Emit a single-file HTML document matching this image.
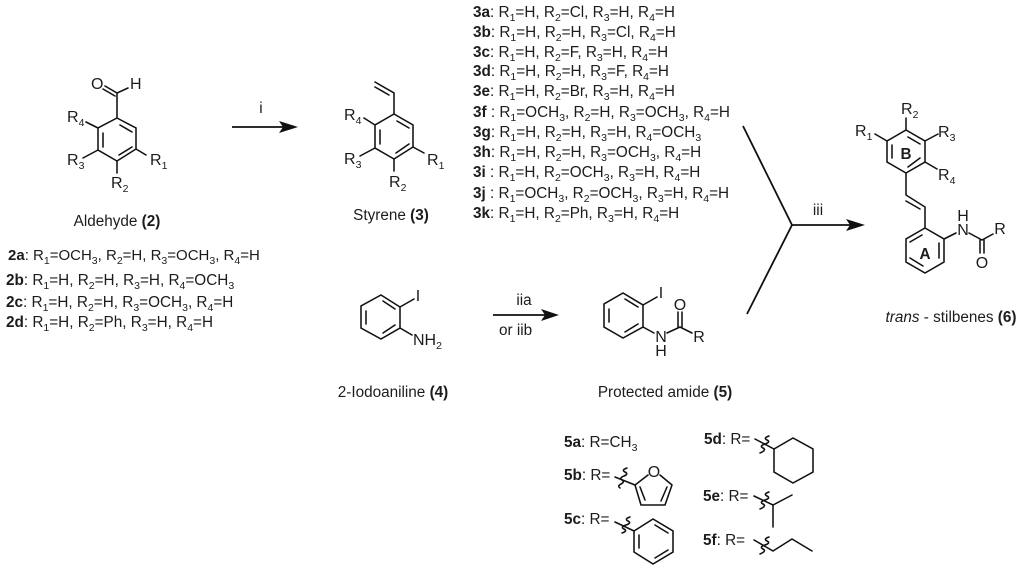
<!DOCTYPE html>
<html><head><meta charset="utf-8"><style>
html,body{margin:0;padding:0;background:#fff}
svg{display:block;filter:blur(0.35px)}
text{font-family:"Liberation Sans",Arial,sans-serif;font-size:15.3px;fill:#1c1c1c}
.m{font-size:16px}
.s{font-size:10.5px;baseline-shift:-3.5px}
.b{font-weight:bold}
.l{stroke:#111;stroke-width:1.55;fill:none;stroke-linecap:round}
.t{stroke:#111;stroke-width:1.8;fill:none}
</style></head><body>
<svg width="1024" height="572" viewBox="0 0 1024 572" xmlns="http://www.w3.org/2000/svg">
<rect width="1024" height="572" fill="#fff"/>

<!-- Aldehyde -->
<path class="l" d="M117,118L136,128V149L117,161L98,150V128ZM103,133V147M120,125L132,132M119,155L132,147M117,118V93L128,88M117,93L105,86M115,96L103,89M86,122L98,128M83,158L98,150M136,149L146,155M117,161V173"/>
<text class="m" x="91" y="89">O</text><text class="m" x="130" y="89">H</text>
<text class="m" x="67" y="122">R<tspan class="s">4</tspan></text>
<text class="m" x="67" y="165">R<tspan class="s">3</tspan></text>
<text class="m" x="150" y="165">R<tspan class="s">1</tspan></text>
<text class="m" x="111" y="188">R<tspan class="s">2</tspan></text>
<text x="117" y="226" text-anchor="middle">Aldehyde <tspan class="b">(2)</tspan></text>

<!-- Styrene -->
<path class="l" d="M394,114L413,125V147L394,159L375,148V125ZM380,130V144M397,121L409,128M396,153L409,144M394,114V93L375,82M389,95L375,87M364,118L375,125M360,156L375,148M413,147L424,153M394,159V171"/>
<text class="m" x="344" y="120">R<tspan class="s">4</tspan></text>
<text class="m" x="344" y="164">R<tspan class="s">3</tspan></text>
<text class="m" x="427" y="165">R<tspan class="s">1</tspan></text>
<text class="m" x="389" y="187">R<tspan class="s">2</tspan></text>
<text x="391" y="220" text-anchor="middle">Styrene <tspan class="b">(3)</tspan></text>

<!-- Arrow i -->
<path class="t" d="M232,127H285"/>
<path fill="#111" d="M298,127L279,121L283,127L279,133Z"/>
<text x="261" y="113" text-anchor="middle">i</text>

<!-- 3 list -->
<text x="473" y="17"><tspan class="b">3a</tspan>: R<tspan class="s">1</tspan>=H, R<tspan class="s">2</tspan>=Cl, R<tspan class="s">3</tspan>=H, R<tspan class="s">4</tspan>=H</text>
<text x="473" y="37"><tspan class="b">3b</tspan>: R<tspan class="s">1</tspan>=H, R<tspan class="s">2</tspan>=H, R<tspan class="s">3</tspan>=Cl, R<tspan class="s">4</tspan>=H</text>
<text x="473" y="57"><tspan class="b">3c</tspan>: R<tspan class="s">1</tspan>=H, R<tspan class="s">2</tspan>=F, R<tspan class="s">3</tspan>=H, R<tspan class="s">4</tspan>=H</text>
<text x="473" y="76"><tspan class="b">3d</tspan>: R<tspan class="s">1</tspan>=H, R<tspan class="s">2</tspan>=H, R<tspan class="s">3</tspan>=F, R<tspan class="s">4</tspan>=H</text>
<text x="473" y="96"><tspan class="b">3e</tspan>: R<tspan class="s">1</tspan>=H, R<tspan class="s">2</tspan>=Br, R<tspan class="s">3</tspan>=H, R<tspan class="s">4</tspan>=H</text>
<text x="473" y="117"><tspan class="b">3f</tspan> : R<tspan class="s">1</tspan>=OCH<tspan class="s">3</tspan>, R<tspan class="s">2</tspan>=H, R<tspan class="s">3</tspan>=OCH<tspan class="s">3</tspan>, R<tspan class="s">4</tspan>=H</text>
<text x="473" y="137"><tspan class="b">3g</tspan>: R<tspan class="s">1</tspan>=H, R<tspan class="s">2</tspan>=H, R<tspan class="s">3</tspan>=H, R<tspan class="s">4</tspan>=OCH<tspan class="s">3</tspan></text>
<text x="473" y="157"><tspan class="b">3h</tspan>: R<tspan class="s">1</tspan>=H, R<tspan class="s">2</tspan>=H, R<tspan class="s">3</tspan>=OCH<tspan class="s">3</tspan>, R<tspan class="s">4</tspan>=H</text>
<text x="473" y="177"><tspan class="b">3i</tspan> : R<tspan class="s">1</tspan>=H, R<tspan class="s">2</tspan>=OCH<tspan class="s">3</tspan>, R<tspan class="s">3</tspan>=H, R<tspan class="s">4</tspan>=H</text>
<text x="473" y="198"><tspan class="b">3j</tspan> : R<tspan class="s">1</tspan>=OCH<tspan class="s">3</tspan>, R<tspan class="s">2</tspan>=OCH<tspan class="s">3</tspan>, R<tspan class="s">3</tspan>=H, R<tspan class="s">4</tspan>=H</text>
<text x="473" y="218"><tspan class="b">3k</tspan>: R<tspan class="s">1</tspan>=H, R<tspan class="s">2</tspan>=Ph, R<tspan class="s">3</tspan>=H, R<tspan class="s">4</tspan>=H</text>

<!-- 2 list -->
<text x="8" y="260" style="font-size:15px"><tspan class="b">2a</tspan>: R<tspan class="s">1</tspan>=OCH<tspan class="s">3</tspan>, R<tspan class="s">2</tspan>=H, R<tspan class="s">3</tspan>=OCH<tspan class="s">3</tspan>, R<tspan class="s">4</tspan>=H</text>
<text x="6" y="285"><tspan class="b">2b</tspan>: R<tspan class="s">1</tspan>=H, R<tspan class="s">2</tspan>=H, R<tspan class="s">3</tspan>=H, R<tspan class="s">4</tspan>=OCH<tspan class="s">3</tspan></text>
<text x="6" y="307"><tspan class="b">2c</tspan>: R<tspan class="s">1</tspan>=H, R<tspan class="s">2</tspan>=H, R<tspan class="s">3</tspan>=OCH<tspan class="s">3</tspan>, R<tspan class="s">4</tspan>=H</text>
<text x="6" y="327"><tspan class="b">2d</tspan>: R<tspan class="s">1</tspan>=H, R<tspan class="s">2</tspan>=Ph, R<tspan class="s">3</tspan>=H, R<tspan class="s">4</tspan>=H</text>

<!-- 2-Iodoaniline -->
<path class="l" d="M381,295L400,307V328L381,339L361,328V306ZM366,311V324M383,301L395,309M383,333L395,325M400,307L414,299M400,328L412,335"/>
<text class="m" x="418" y="301" text-anchor="middle">I</text>
<text class="m" x="413" y="345">NH<tspan class="s">2</tspan></text>
<text x="393" y="397" text-anchor="middle">2-Iodoaniline <tspan class="b">(4)</tspan></text>

<!-- Arrow ii -->
<path class="t" d="M493,315H546"/>
<path fill="#111" d="M559,315L541,309L545,315L541,321Z"/>
<text x="524" y="305" text-anchor="middle">iia</text>
<text x="499" y="335">or iib</text>

<!-- Amide 5 -->
<path class="l" d="M623,293L643,305V327L623,338L604,327V304ZM609,309V322M625,299L638,307M625,332L638,324M643,305L657,297M643,327L654,333M667,333L680,327L692,333M678,327V312M682,327V312"/>
<text class="m" x="661" y="298" text-anchor="middle">I</text>
<text class="m" x="680" y="310" text-anchor="middle">O</text>
<text class="m" x="661" y="342" text-anchor="middle">N</text>
<text class="m" x="661" y="356" text-anchor="middle">H</text>
<text class="m" x="699" y="342" text-anchor="middle">R</text>
<text x="665" y="397" text-anchor="middle">Protected amide <tspan class="b">(5)</tspan></text>

<!-- Arrow iii -->
<path class="t" d="M743,126L792,225L747,314M792,225H853"/>
<path fill="#111" d="M865,225L846,219L850,225L846,231Z"/>
<text x="818" y="215" text-anchor="middle">iii</text>

<!-- Stilbene -->
<path class="l" d="M906,130L925,141V162L906,173L887,162V141ZM892,145V158M908,137L920,144M908,167L920,158M906,173V195L925,207V228M906,201L920,209M925,228L944,239V262L925,273L906,262V239ZM939,243V258M910,242L922,235M910,258L923,266M944,239L956,233M969,233L982,240L993,234M980,240V253M984,240V253M906,130V118M887,141L875,134M925,141L938,134M925,162L937,169"/>
<text class="m" x="901" y="114">R<tspan class="s">2</tspan></text>
<text class="m" x="855" y="136">R<tspan class="s">1</tspan></text>
<text class="m" x="938" y="137">R<tspan class="s">3</tspan></text>
<text class="m" x="938" y="180">R<tspan class="s">4</tspan></text>
<text class="b" x="906" y="159" text-anchor="middle">B</text>
<text class="b" x="925" y="259" text-anchor="middle">A</text>
<text class="m" x="963" y="221" text-anchor="middle">H</text>
<text class="m" x="963" y="235" text-anchor="middle">N</text>
<text class="m" x="1000" y="234" text-anchor="middle">R</text>
<text class="m" x="982" y="268" text-anchor="middle">O</text>
<text x="951" y="322" text-anchor="middle"><tspan font-style="italic">trans</tspan> - stilbenes <tspan class="b">(6)</tspan></text>

<!-- 5 list -->
<text x="564" y="447"><tspan class="b">5a</tspan>: R=CH<tspan class="s">3</tspan></text>
<text x="564" y="480"><tspan class="b">5b</tspan>: R=</text>
<text x="564" y="524"><tspan class="b">5c</tspan>: R=</text>
<text x="704" y="444"><tspan class="b">5d</tspan>: R=</text>
<text x="703" y="501"><tspan class="b">5e</tspan>: R=</text>
<text x="703" y="545"><tspan class="b">5f</tspan>: R=</text>

<!-- Furan -->
<path class="l" d="M615,477L635,485M648,475L635,485L641,505H665L672,485L660,475M640,487L645,500M667,487L661,501"/>
<text class="m" x="654" y="477" text-anchor="middle">O</text>
<path class="l" d="M627,468q-6,2 -2,4t-1,4t-2,4t-1,4t-1,4"/>
<!-- Benzene -->
<path class="l" d="M615,522L634,531L653,519L673,531V552L653,564L634,552V531M639,535V548M655,525L668,533M655,558L668,550"/>
<path class="l" d="M630,517q-6,2 -2,4t-2,4t-2,4t-2,4"/>
<!-- Cyclohexane -->
<path class="l" d="M755,439L774,449L793,438L813,449V472L793,483L774,472V449"/>
<path class="l" d="M769,436q-6,2 -2,4t-2,4t-2,4t-3,5"/>
<!-- iPr -->
<path class="l" d="M754,496L773,505L792,495M773,505V527"/>
<path class="l" d="M769,492q-6,2 -2,4t-2,4t-2,4t-3,5"/>
<!-- Propyl -->
<path class="l" d="M754,540L773,551L792,539L812,551"/>
<path class="l" d="M769,537q-6,2 -2,4t-2,4t-2,4t-3,5"/>
</svg>
</body></html>
